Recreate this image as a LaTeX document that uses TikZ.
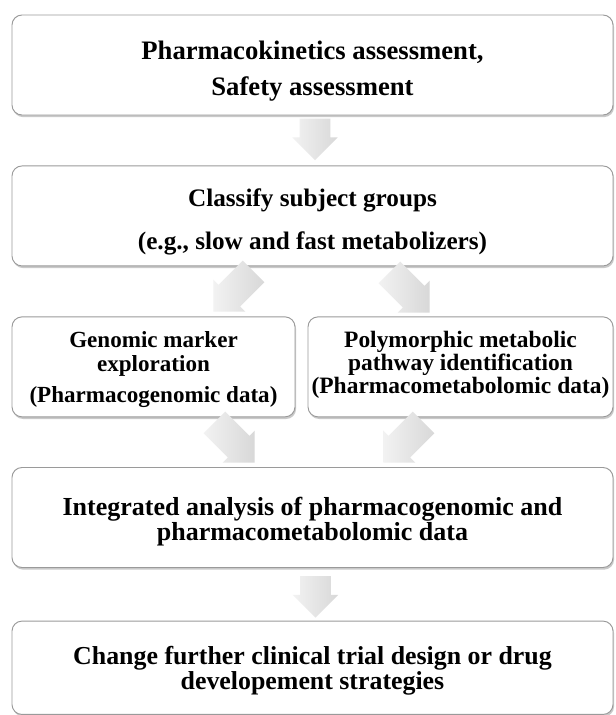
\documentclass[tikz,border=0pt]{standalone}
\usepackage{fontspec}
\setmainfont{Liberation Serif}
\usetikzlibrary{positioning, calc, shapes.arrows, shadows}
\definecolor{boxedge}{HTML}{9A9A9A}
\definecolor{arrowtail}{HTML}{F2F2F2}
\definecolor{arrowtip}{HTML}{D8D8D8}

\begin{document}
\begin{tikzpicture}[
    x=0.75pt, y=-0.75pt,
    align=center,
    font=\bfseries,
    stepbox/.style={draw=boxedge, fill=white, rectangle, rounded corners=7.5pt, line width=0.7pt, minimum height=75pt, inner sep=2pt, text depth=0pt, drop shadow={shadow xshift=0.8pt, shadow yshift=-1.6pt, opacity=0.35, fill=black!60}},
    widebox/.style={stepbox, minimum width=450.75pt},
    flowarrow/.style={single arrow, single arrow head extend=5.6pt, inner xsep=0pt, inner ysep=11.25pt, minimum height=31pt, left color=arrowtail, right color=arrowtip, draw=none},
    diagarrow/.style={flowarrow, minimum height=42.75pt}
]

    \path [use as bounding box, fill=white] (0, 0) rectangle (616, 715);

    % =========================================================================
    % ASSESSMENT AND GROUPING
    % =========================================================================
    \node (pk_box) [widebox, font=\bfseries\fontsize{20}{27}\selectfont] at (312.5, 65) {\rule{0pt}{19pt}Pharmacokinetics assessment,\\Safety assessment};
    \node (classify_box) [widebox, font=\bfseries\fontsize{18.9}{32}\selectfont, below=37.5pt of pk_box] {\rule{0pt}{18pt}Classify subject groups\\(e.g., slow and fast metabolizers)};

    \node (arr_pk) [flowarrow, rotate=-90, anchor=tail] at ($(pk_box.south)+(2.5, 3)$) {};

    % =========================================================================
    % DATA EXPLORATION
    % =========================================================================
    \node (genomic_box) [stepbox, minimum width=212.25pt, font=\bfseries\fontsize{17.3}{18}\selectfont, below=37.5pt of classify_box.south west, anchor=north west] {Genomic marker\\exploration\\[5pt](Pharmacogenomic data)};
    \node (pathway_box) [stepbox, minimum width=228.75pt, text depth=7pt, font=\bfseries\fontsize{17.6}{17}\selectfont, below=37.5pt of classify_box.south east, anchor=north east] {Polymorphic metabolic\\pathway identification\\(Pharmacometabolomic data)};

    \node (arr_cl_gen) [diagarrow, rotate=-135, anchor=tip] at (213, 312) {};
    \node (arr_cl_path) [diagarrow, rotate=-45, anchor=tip] at (430, 313) {};

    % =========================================================================
    % INTEGRATION AND STRATEGY
    % =========================================================================
    \node (integ_box) [widebox, font=\bfseries\fontsize{19.5}{19}\selectfont] at (312.5, 517.5) {\rule{0pt}{16pt}Integrated analysis of pharmacogenomic and\\pharmacometabolomic data};
    \node (change_box) [widebox, minimum height=70pt, font=\bfseries\fontsize{19.4}{19}\selectfont, below=39.5pt of integ_box] {Change further clinical trial design or drug\\developement strategies};

    \node (arr_gen_integ) [diagarrow, rotate=-45, anchor=tip] at (255, 463) {};
    \node (arr_path_integ) [diagarrow, rotate=-135, anchor=tip] at (383, 463) {};
    \node (arr_integ) [flowarrow, rotate=-90, anchor=tail] at ($(integ_box.south)+(3, 8)$) {};

\end{tikzpicture}
\end{document}
